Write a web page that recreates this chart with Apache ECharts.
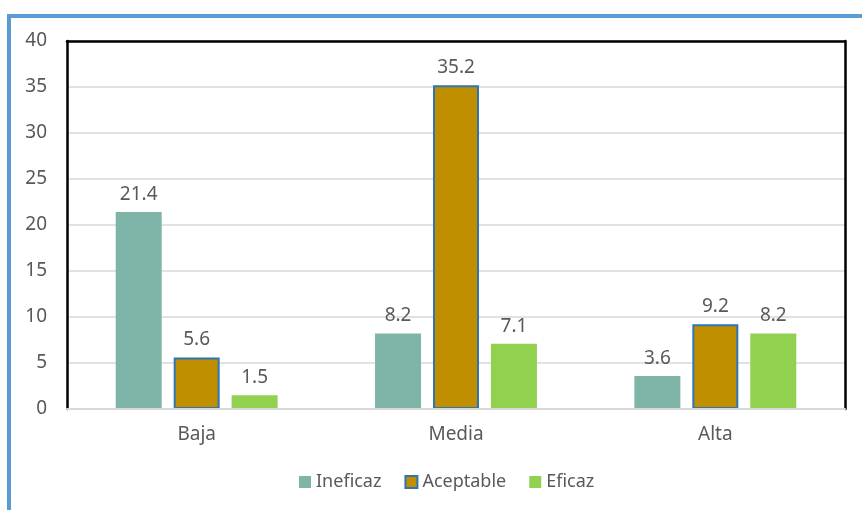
<!DOCTYPE html>
<html>
<head>
<meta charset="utf-8">
<script src="https://cdn.jsdelivr.net/npm/echarts@6/dist/echarts.min.js"></script>
<style>
  html, body { margin: 0; padding: 0; background: #fff; }
  #chart { width: 862px; height: 510px; }
</style>
</head>
<body>
<div id="chart"></div>
<script>
// Nivel categories and values per evaluation result
const categories = ['Baja', 'Media', 'Alta'];
const ineficaz = [21.4, 8.2, 3.6];
const aceptable = [5.6, 35.2, 9.2];
const eficaz = [1.5, 7.1, 8.2];
const seriesNames = ['Ineficaz', 'Aceptable', 'Eficaz'];

const FONT = '"Noto Sans", sans-serif';
const TEXT = '#595959';

const chart = echarts.init(document.getElementById('chart'), null, { renderer: 'canvas' });

function barSeries(name, data, color, borderColor) {
  return {
    name: name,
    type: 'bar',
    data: data,
    barWidth: 46,
    barGap: '26%',
    itemStyle: {
      color: color,
      borderColor: borderColor || color,
      borderWidth: borderColor ? 2 : 0
    },
    label: {
      show: true,
      position: 'top',
      distance: 8,
      color: TEXT,
      fontFamily: FONT,
      fontSize: 19
    }
  };
}

chart.setOption({
  animation: false,
  backgroundColor: '#fff',
  graphic: [
    {
      type: 'rect',
      shape: { x: 9, y: 16, width: 900, height: 600 },
      style: { fill: 'none', stroke: '#5b9bd5', lineWidth: 4 },
      z: 100
    }
  ],
  grid: {
    left: 67, top: 41, right: 17, bottom: 101
  },
  legend: {
    bottom: 14,
    left: 294,
    icon: 'rect',
    itemWidth: 12,
    itemHeight: 12,
    itemGap: 23,
    itemTextGap: 6,
    textStyle: { color: TEXT, fontFamily: FONT, fontSize: 18 },
    data: seriesNames
  },
  xAxis: [
    {
      type: 'category',
      data: categories,
      axisLine: { show: true, lineStyle: { color: '#d9d9d9', width: 2 } },
      axisTick: { show: false },
      axisLabel: { color: TEXT, fontFamily: FONT, fontSize: 19, margin: 16 },
      z: 10
    },
    {
      // top frame edge of the plot area
      type: 'category',
      position: 'top',
      data: categories,
      axisLine: { show: true, onZero: false, lineStyle: { color: '#000', width: 2.5 } },
      axisTick: { show: false },
      axisLabel: { show: false },
      z: 10
    }
  ],
  yAxis: [
    {
      type: 'value',
      min: 0, max: 40, interval: 5,
      axisLine: { show: true, lineStyle: { color: '#000', width: 2.5 } },
      axisTick: { show: false },
      splitLine: { lineStyle: { color: '#d9d9d9', width: 1.5 } },
      axisLabel: { color: TEXT, fontFamily: FONT, fontSize: 19, margin: 20 }
    },
    {
      // right frame edge of the plot area
      type: 'value',
      position: 'right',
      min: 0, max: 40, interval: 5,
      axisLine: { show: true, onZero: false, lineStyle: { color: '#000', width: 2.5 } },
      axisTick: { show: false },
      splitLine: { show: false },
      axisLabel: { show: false }
    }
  ],
  series: [
    barSeries(seriesNames[0], ineficaz, '#7fb5a8'),
    barSeries(seriesNames[1], aceptable, '#bf8f00', '#2e75b6'),
    barSeries(seriesNames[2], eficaz, '#92d050')
  ]
});
</script>
</body>
</html>
